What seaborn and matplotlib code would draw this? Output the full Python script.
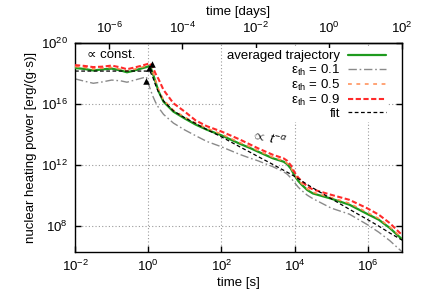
import numpy as np
import pandas as pd
import matplotlib
matplotlib.use("Agg")
import matplotlib.pyplot as plt
import seaborn as sns
from matplotlib.ticker import NullLocator, LogFormatterSciNotation

# ---------------- data (log10 values) ----------------
LOG_T = [-2.0, -1.75, -1.5, -1.25, -1.0, -0.75, -0.58, -0.4, -0.2, -0.05, 0.05,
         0.12, 0.2, 0.28, 0.42, 0.69, 1.0, 1.3, 1.6, 2.0, 2.5, 2.8, 3.0, 3.4,
         3.7, 3.8, 3.9, 4.0, 4.1, 4.2, 4.35, 4.5, 5.0, 5.5, 6.0, 6.3, 6.6, 6.94]

avg_logp = [18.36, 18.30, 18.20, 18.27, 18.32, 18.20, 18.08, 18.18, 18.32, 18.42, 18.50,
            18.05, 17.45, 16.85, 16.15, 15.50, 15.05, 14.65, 14.32, 13.95, 13.40, 13.10, 12.88, 12.45,
            12.22, 12.06, 11.76, 11.32, 10.96, 10.70, 10.36, 10.14, 9.80, 9.40, 8.78, 8.42, 7.88, 7.13]
eps01_logp = [17.65, 17.50, 17.36, 17.45, 17.57, 17.52, 17.43, 17.55, 17.68, 17.78, 17.02,
              16.55, 16.12, 15.78, 15.32, 14.75, 14.30, 13.92, 13.55, 13.20, 12.70, 12.44, 12.28, 11.90,
              11.56, 11.40, 11.15, 10.85, 10.55, 10.32, 10.02, 9.80, 9.18, 8.78, 8.08, 7.60, 7.05, 6.31]
eps05_logp = [18.45, 18.40, 18.30, 18.35, 18.40, 18.28, 18.18, 18.27, 18.40, 18.50, 18.58,
              18.15, 17.55, 16.98, 16.28, 15.60, 15.15, 14.75, 14.42, 14.03, 13.48, 13.18, 12.95, 12.52,
              12.28, 12.12, 11.82, 11.38, 11.02, 10.77, 10.44, 10.22, 9.87, 9.50, 8.88, 8.50, 7.95, 7.22]
eps09_logp = [18.55, 18.50, 18.42, 18.45, 18.52, 18.40, 18.28, 18.38, 18.50, 18.60, 18.68,
              18.45, 18.00, 17.65, 16.92, 16.05, 15.50, 14.92, 14.55, 14.20, 13.68, 13.33, 13.10, 12.68,
              12.44, 12.28, 11.98, 11.52, 11.18, 10.93, 10.60, 10.40, 10.05, 9.72, 9.15, 8.75, 8.20, 7.41]
fit_logp = [18.16, 18.16, 18.16, 18.16, 18.16, 18.16, 18.16, 18.16, 18.16, 18.16, 18.14,
            17.80, 17.25, 16.80, 16.20, 15.55, 15.10, 14.72, 14.33, 13.85, 13.20, 12.82, 12.56, 12.05,
            11.66, 11.53, 11.40, 11.26, 11.11, 10.95, 10.72, 10.50, 9.80, 9.10, 8.42, 8.00, 7.55, 7.08]

TRI_LOGT = [0.10, 0.03, -0.05]
TRI_LOGP = [18.62, 18.34, 17.50]

series_labels = ["averaged trajectory", "ε$_{\\rm th}$ = 0.1", "ε$_{\\rm th}$ = 0.5",
                 "ε$_{\\rm th}$ = 0.9", "fit"]
series_values = [avg_logp, eps01_logp, eps05_logp, eps09_logp, fit_logp]

X_TICKS = [1e-2, 1e0, 1e2, 1e4, 1e6]
Y_TICKS = [1e8, 1e12, 1e16, 1e20]
DAY_TICKS = [1e-6, 1e-4, 1e-2, 1e0, 1e2]

# ---------------- style ----------------
sns.set_theme(style="ticks")
FS = 9.5
plt.rcParams.update({
    "font.family": ["Liberation Sans", "DejaVu Sans"],
    "font.size": FS,
    "mathtext.fontset": "custom",
    "mathtext.rm": "Liberation Sans",
    "mathtext.it": "Liberation Sans:italic",
    "mathtext.bf": "Liberation Sans:bold",
    "mathtext.fallback": "cm",
    "axes.linewidth": 1.0,
    "axes.edgecolor": "black",
    "xtick.color": "black",
    "ytick.color": "black",
    "text.color": "black",
    "axes.labelcolor": "black",
})

fig = plt.figure(figsize=(4.24, 2.96), dpi=100)
ax = fig.add_axes([75 / 424, 1 - 252 / 296, 327 / 424, 209 / 296])

t = 10 ** np.array(LOG_T)
df = pd.DataFrame({"t": np.tile(t, len(series_labels)),
                   "P": 10 ** np.concatenate([np.array(v) for v in series_values]),
                   "series": np.repeat(series_labels, len(t))})

styles = {
    series_labels[0]: dict(color="#1e9a1e", lw=1.6, ls="-"),
    series_labels[1]: dict(color="#8a8a8a", lw=1.0, ls=(0, (6, 2, 1.2, 2))),
    series_labels[2]: dict(color="#ff8a50", lw=1.1, ls=(0, (2.5, 3))),
    series_labels[3]: dict(color="#ff2a2a", lw=1.5, ls=(0, (2.5, 1.2))),
    series_labels[4]: dict(color="black", lw=0.9, ls=(0, (3, 2))),
}
order_z = [3, 2, 4, 5, 6]
for lab, z in zip(series_labels, order_z):
    st = styles[lab]
    sns.lineplot(data=df[df["series"] == lab], x="t", y="P", ax=ax,
                 color=st["color"], lw=st["lw"], linestyle=st["ls"],
                 label=lab, zorder=z)

ax.scatter(10 ** np.array(TRI_LOGT), 10 ** np.array(TRI_LOGP), marker="^",
           s=22, color="black", zorder=8, linewidths=0)

ax.set_xscale("log")
ax.set_yscale("log")
ax.set_xlim(1e-2, 8.64e6)
ax.set_ylim(2e6, 1e20)
ax.set_xticks(X_TICKS)
ax.set_yticks(Y_TICKS)
ax.xaxis.set_minor_locator(NullLocator())
ax.yaxis.set_minor_locator(NullLocator())
ax.xaxis.set_major_formatter(LogFormatterSciNotation())
ax.yaxis.set_major_formatter(LogFormatterSciNotation())
ax.tick_params(axis="both", which="major", direction="in", length=4.5, width=1.0,
               labelsize=FS, pad=5)
ax.tick_params(axis="y", right=True)
ax.tick_params(axis="x", top=False)
ax.grid(True, which="major", ls=(0, (1, 2)), color="#9a9a9a", lw=0.8)

ax.set_xlabel("time [s]", fontsize=FS, labelpad=2)
ax.set_ylabel("nuclear heating power [erg/(g·s)]", fontsize=FS, labelpad=3)

secax = ax.secondary_xaxis("top", functions=(lambda s: np.asarray(s) / 86400.0,
                                              lambda d: np.asarray(d) * 86400.0))
secax.set_xticks(DAY_TICKS)
secax.xaxis.set_minor_locator(NullLocator())
secax.xaxis.set_major_formatter(LogFormatterSciNotation())
secax.tick_params(axis="x", direction="in", length=4.5, width=1.0, labelsize=FS, pad=5)
secax.set_xlabel("time [days]", fontsize=FS, labelpad=4)

ax.text(0.1, 10 ** 19.2, "∝ const.", ha="center", va="center", fontsize=FS)
ax.text(10 ** 3.29, 10 ** 13.7, r"$\propto\ t^{-\alpha}$", ha="center", va="center",
        fontsize=FS, rotation=-12)

leg = ax.legend(loc="upper right", bbox_to_anchor=(0.958, 0.975), frameon=True,
                markerfirst=False, handlelength=2.9, handletextpad=0.6,
                labelspacing=0.0, borderpad=0.15, borderaxespad=0.0, fontsize=FS)
leg.get_frame().set_facecolor("white")
leg.get_frame().set_edgecolor("none")
leg.get_frame().set_alpha(1.0)
leg.get_frame().set_boxstyle("square", pad=0)
for txt in leg.get_texts():
    txt.set_ha("right")
leg.set_zorder(10)

fig.savefig("out.png", dpi=100)
